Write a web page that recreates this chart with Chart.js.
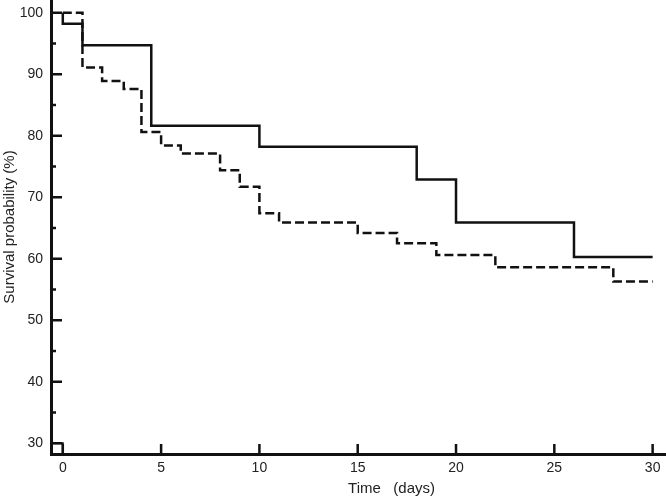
<!DOCTYPE html>
<html>
<head>
<meta charset="utf-8">
<script src="https://cdn.jsdelivr.net/npm/chart.js@4"></script>
<style>
  body { margin: 0; background: #fff; }
  #wrap { width: 666px; height: 498px; position: relative; }
</style>
</head>
<body>
<div id="wrap"><canvas id="myChart"></canvas></div>
<script>
// group 1 (solid line)
const solidTimes  = [0, 0, 1, 4.5, 10, 18, 20, 26, 30];
const solidValues = [100, 98.2, 94.7, 81.6, 78.2, 72.9, 65.9, 60.3, 60.3];
// group 2 (dashed line)
const dashTimes  = [0, 1, 2, 3.1, 4, 5, 6, 8, 9, 10, 11, 15, 17, 19, 22, 28, 30];
const dashValues = [100, 91.1, 88.9, 87.6, 80.6, 78.4, 77.1, 74.4, 71.7, 67.4, 65.9, 64.2, 62.5, 60.6, 58.6, 56.3, 56.3];
// little axis-break mark in the bottom-left corner
const breakTimes  = [-0.6, 0, 0];
const breakValues = [30, 30, 28.26];

const xTicks = [0, 5, 10, 15, 20, 25, 30];
const yLabels = [30, 40, 50, 60, 70, 80, 90, 100];
const xTitle = 'Time   (days)';

function pts(xs, ys) {
  return xs.map((x, i) => ({x: x, y: ys[i]}));
}

// ticks pointing into the plot (minor ones shorter) and the x title,
// which sits a bit right of centre in the original
const innerTicks = {
  id: 'innerTicks',
  afterDraw(chart) {
    const ctx = chart.ctx;
    const xs = chart.scales.x, ys = chart.scales.y;
    const area = chart.chartArea;
    ctx.save();
    ctx.strokeStyle = '#111';
    ctx.lineWidth = 2.5;
    ctx.beginPath();
    xs.ticks.forEach(t => {
      const px = xs.getPixelForValue(t.value);
      ctx.moveTo(px, area.bottom);
      ctx.lineTo(px, area.bottom - 10);
    });
    ys.ticks.forEach(t => {
      const py = ys.getPixelForValue(t.value);
      const len = (t.value % 10 === 0) ? 11 : 5;
      ctx.moveTo(area.left, py);
      ctx.lineTo(area.left + len, py);
    });
    ctx.stroke();

    ctx.fillStyle = '#222';
    ctx.font = '15px "Liberation Sans"';
    ctx.textAlign = 'center';
    ctx.textBaseline = 'middle';
    ctx.fillText(xTitle, (area.left + area.right) / 2 + 33, 489);
    ctx.restore();
  }
};

const CHART = document.getElementById("myChart");
let kmChart = new Chart(CHART, {
  type: 'line',
  data: {
    datasets: [{
      label: 'Group 1',
      data: pts(solidTimes, solidValues),
      stepped: true,
      borderColor: '#111',
      borderWidth: 2.5,
      pointRadius: 0,
      fill: false
    },
    {
      label: 'Group 2',
      data: pts(dashTimes, dashValues),
      stepped: true,
      borderColor: '#111',
      borderWidth: 2.5,
      borderDash: [9, 4],
      pointRadius: 0,
      fill: false
    },
    {
      label: 'break',
      data: pts(breakTimes, breakValues),
      borderColor: '#111',
      borderWidth: 2,
      pointRadius: 0,
      fill: false
    }]
  },
  options: {
    responsive: true,
    maintainAspectRatio: false,
    animation: false,
    layout: { padding: 0 },
    plugins: {
      legend: { display: false },
      tooltip: { enabled: false }
    },
    scales: {
      x: {
        type: 'linear',
        min: -0.6,
        max: 30.68,
        grid: { display: false, drawTicks: false },
        border: { display: true, color: '#111', width: 3 },
        afterFit(s) { s.height = 44; s.paddingLeft = 0; s.paddingRight = 0; },
        afterBuildTicks(s) { s.ticks = xTicks.map(v => ({value: v})); },
        ticks: {
          padding: 6,
          color: '#222',
          font: { family: 'Liberation Sans', size: 14 }
        }
      },
      y: {
        min: 28.26,
        max: 102.06,
        grid: { display: false, drawTicks: false },
        border: { display: true, color: '#111', width: 3 },
        afterFit(s) { s.width = 51; s.paddingTop = 0; s.paddingBottom = 0; },
        ticks: {
          stepSize: 5,
          includeBounds: false,
          padding: 8,
          color: '#222',
          font: { family: 'Liberation Sans', size: 14 },
          callback: v => yLabels.includes(v) ? String(v) : ''
        },
        title: {
          display: true,
          text: 'Survival probability (%)',
          color: '#222',
          padding: { top: 1, bottom: 0 },
          font: { family: 'Liberation Sans', size: 15 }
        }
      }
    }
  },
  plugins: [innerTicks]
});
</script>
</body>
</html>
